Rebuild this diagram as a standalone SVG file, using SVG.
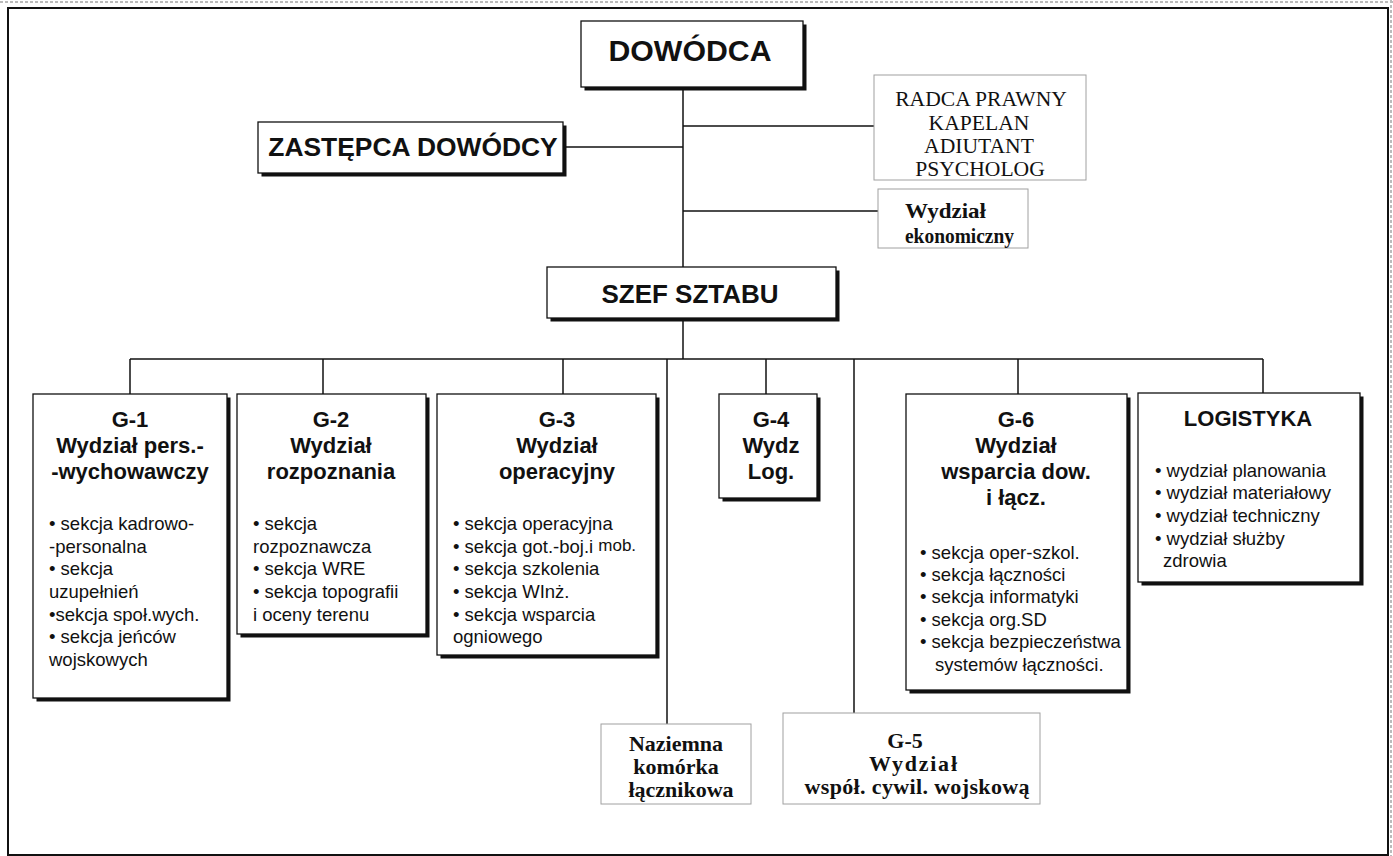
<svg xmlns="http://www.w3.org/2000/svg" width="1393" height="856" viewBox="0 0 1393 856">
<style>
.bg{fill:#fff}
.frame{fill:none;stroke:#111;stroke-width:2}
.dots{fill:none;stroke:#bbb;stroke-width:2;stroke-dasharray:3 2}
.box{fill:#fff;stroke:#111;stroke-width:1.3}
.sh{fill:#111}
.lbox{fill:#fff;stroke:#a0a0a0;stroke-width:1}
.conn{stroke:#111;stroke-width:1.5;fill:none}
.h{font-family:"Liberation Sans",Arial,sans-serif;font-weight:bold;fill:#111;text-anchor:middle}
.h22{font-size:22px}
.l{font-family:"Liberation Sans",Arial,sans-serif;font-size:18.5px;fill:#111}
.s{font-family:"Liberation Serif","Times New Roman",serif;fill:#111;text-anchor:middle}
.sb{font-family:"Liberation Serif","Times New Roman",serif;font-weight:bold;font-size:22px;fill:#111;text-anchor:middle}
</style>
<rect class="bg" x="0" y="0" width="1393" height="856"/>
<line class="dots" x1="0" y1="2" x2="1393" y2="2"/>
<line class="dots" x1="1391" y1="0" x2="1391" y2="856"/>
<rect class="frame" x="8" y="8" width="1380" height="847"/>

<g id="connectors">
  <line class="conn" x1="683" y1="87" x2="683" y2="267"/>
  <line class="conn" x1="563" y1="147" x2="683" y2="147"/>
  <line class="conn" x1="683" y1="126" x2="874" y2="126"/>
  <line class="conn" x1="683" y1="211" x2="878" y2="211"/>
  <line class="conn" x1="683" y1="318" x2="683" y2="359"/>
  <line class="conn" x1="130" y1="359" x2="1263" y2="359"/>
  <line class="conn" x1="130" y1="359" x2="130" y2="394"/>
  <line class="conn" x1="323" y1="359" x2="323" y2="394"/>
  <line class="conn" x1="563" y1="359" x2="563" y2="394"/>
  <line class="conn" x1="766" y1="359" x2="766" y2="394"/>
  <line class="conn" x1="1018" y1="359" x2="1018" y2="394"/>
  <line class="conn" x1="1263" y1="359" x2="1263" y2="394"/>
  <line class="conn" x1="667" y1="359" x2="667" y2="724"/>
  <line class="conn" x1="854" y1="359" x2="854" y2="713"/>
</g>

<g id="dowodca">
  <rect class="sh" x="584.5" y="24.5" width="222" height="66"/>
  <rect class="box" x="581" y="21" width="222" height="66"/>
  <text class="h" x="690" y="61" font-size="29" textLength="163" lengthAdjust="spacingAndGlyphs">DOWÓDCA</text>
</g>

<g id="zastepca">
  <rect class="sh" x="261.5" y="125.5" width="305" height="51"/>
  <rect class="box" x="258" y="122" width="305" height="51"/>
  <text class="h" x="413" y="156" font-size="26.4">ZASTĘPCA DOWÓDCY</text>
</g>

<g id="radca">
  <rect class="lbox" x="874" y="75" width="212" height="105"/>
  <text class="s" x="981" y="106" font-size="21.6">RADCA PRAWNY</text>
  <text class="s" x="979" y="130" font-size="21.6">KAPELAN</text>
  <text class="s" x="979" y="153" font-size="21.6">ADIUTANT</text>
  <text class="s" x="980" y="176" font-size="21.6">PSYCHOLOG</text>
</g>

<g id="ekonomiczny">
  <rect class="lbox" x="878" y="189" width="150" height="59"/>
  <text class="sb" x="905" y="218" font-size="20" style="text-anchor:start" textLength="81" lengthAdjust="spacingAndGlyphs">Wydział</text>
  <text class="sb" x="905" y="243" font-size="20" style="text-anchor:start" textLength="109" lengthAdjust="spacingAndGlyphs">ekonomiczny</text>
</g>

<g id="szef">
  <rect class="sh" x="550.5" y="270.5" width="289" height="51"/>
  <rect class="box" x="547" y="267" width="289" height="51"/>
  <text class="h" x="690" y="303" font-size="26">SZEF SZTABU</text>
</g>

<g id="g1">
  <rect class="sh" x="36.5" y="397.5" width="194" height="304"/>
  <rect class="box" x="33" y="394" width="194" height="304"/>
  <text class="h h22" x="130" y="427">G-1</text>
  <text class="h h22" x="130" y="453">Wydział pers.-</text>
  <text class="h h22" x="130" y="479">-wychowawczy</text>
  <text class="l" x="49" y="530">• sekcja kadrowo-</text>
  <text class="l" x="49" y="553">-personalna</text>
  <text class="l" x="49" y="575">• sekcja</text>
  <text class="l" x="49" y="598">uzupełnień</text>
  <text class="l" x="49" y="621">•sekcja społ.wych.</text>
  <text class="l" x="49" y="643">• sekcja jeńców</text>
  <text class="l" x="49" y="666">wojskowych</text>
</g>

<g id="g2">
  <rect class="sh" x="240.5" y="397.5" width="189" height="240"/>
  <rect class="box" x="237" y="394" width="189" height="240"/>
  <text class="h h22" x="331" y="427">G-2</text>
  <text class="h h22" x="331" y="453">Wydział</text>
  <text class="h h22" x="331" y="479">rozpoznania</text>
  <text class="l" x="253" y="530">• sekcja</text>
  <text class="l" x="253" y="553">rozpoznawcza</text>
  <text class="l" x="253" y="575">• sekcja WRE</text>
  <text class="l" x="253" y="598">• sekcja topografii</text>
  <text class="l" x="253" y="621">i oceny terenu</text>
</g>

<g id="g3">
  <rect class="sh" x="440.5" y="397.5" width="219" height="261"/>
  <rect class="box" x="437" y="394" width="219" height="261"/>
  <text class="h h22" x="557" y="427">G-3</text>
  <text class="h h22" x="557" y="453">Wydział</text>
  <text class="h h22" x="557" y="479">operacyjny</text>
  <text class="l" x="453" y="530">• sekcja operacyjna</text>
  <text class="l" x="453" y="553">• sekcja got.-boj.i <tspan font-size="17" dy="-2">mob.</tspan></text>
  <text class="l" x="453" y="575">• sekcja szkolenia</text>
  <text class="l" x="453" y="598">• sekcja WInż.</text>
  <text class="l" x="453" y="621">• sekcja wsparcia</text>
  <text class="l" x="453" y="643">ogniowego</text>
</g>

<g id="g4">
  <rect class="sh" x="722.5" y="397.5" width="98" height="104"/>
  <rect class="box" x="719" y="394" width="98" height="104"/>
  <text class="h h22" x="771" y="427">G-4</text>
  <text class="h h22" x="771" y="453">Wydz</text>
  <text class="h h22" x="771" y="479">Log.</text>
</g>

<g id="g6">
  <rect class="sh" x="909.5" y="397.5" width="221" height="296"/>
  <rect class="box" x="906" y="394" width="221" height="296"/>
  <text class="h h22" x="1016" y="427">G-6</text>
  <text class="h h22" x="1016" y="453">Wydział</text>
  <text class="h h22" x="1016" y="479">wsparcia dow.</text>
  <text class="h h22" x="1016" y="505">i łącz.</text>
  <text class="l" x="920" y="559">• sekcja oper-szkol.</text>
  <text class="l" x="920" y="581">• sekcja łączności</text>
  <text class="l" x="920" y="603">• sekcja informatyki</text>
  <text class="l" x="920" y="626">• sekcja org.SD</text>
  <text class="l" x="920" y="648">• sekcja bezpieczeństwa</text>
  <text class="l" x="935" y="671">systemów łączności.</text>
</g>

<g id="logistyka">
  <rect class="sh" x="1141.5" y="396.5" width="222" height="189"/>
  <rect class="box" x="1138" y="393" width="222" height="189"/>
  <text class="h h22" x="1248" y="426">LOGISTYKA</text>
  <text class="l" x="1155" y="477">• wydział planowania</text>
  <text class="l" x="1155" y="499">• wydział materiałowy</text>
  <text class="l" x="1155" y="522">• wydział techniczny</text>
  <text class="l" x="1155" y="545">• wydział służby</text>
  <text class="l" x="1163" y="567">zdrowia</text>
</g>

<g id="naziemna">
  <rect class="lbox" x="601" y="724" width="150" height="80"/>
  <text class="sb" x="676" y="751">Naziemna</text>
  <text class="sb" x="676" y="774">komórka</text>
  <text class="sb" x="681" y="797">łącznikowa</text>
</g>

<g id="g5">
  <rect class="lbox" x="783" y="713" width="257" height="91"/>
  <text class="sb" x="905" y="748">G-5</text>
  <text class="sb" x="913" y="771" textLength="88" lengthAdjust="spacing">Wydział</text>
  <text class="sb" x="917" y="794" textLength="225" lengthAdjust="spacing">współ. cywil. wojskową</text>
</g>
</svg>
